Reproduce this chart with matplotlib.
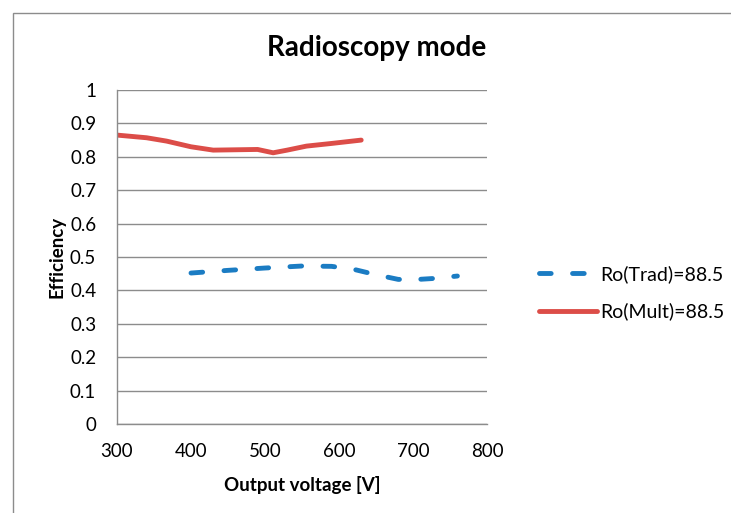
import matplotlib
matplotlib.use("Agg")
import matplotlib.pyplot as plt
from matplotlib.lines import Line2D
from matplotlib.patches import Rectangle

plt.rcParams['font.family'] = ['Lato', 'DejaVu Sans']

title = "Radioscopy mode"
xlabel = "Output voltage [V]"
ylabel = "Efficiency"
x_ticks = [300, 400, 500, 600, 700, 800]
y_ticks = [0, 0.1, 0.2, 0.3, 0.4, 0.5, 0.6, 0.7, 0.8, 0.9, 1]
y_tick_labels = ["0", "0.1", "0.2", "0.3", "0.4", "0.5", "0.6", "0.7", "0.8", "0.9", "1"]

trad_label = "Ro(Trad)=88.5"
trad_x = [400, 450, 500, 550, 590, 620, 650, 680, 700, 730, 760]
trad_y = [0.452, 0.460, 0.467, 0.473, 0.472, 0.463, 0.447, 0.433, 0.432, 0.436, 0.443]

mult_label = "Ro(Mult)=88.5"
mult_x = [300, 340, 367, 400, 430, 460, 490, 511, 530, 556, 590, 630]
mult_y = [0.865, 0.857, 0.847, 0.830, 0.820, 0.821, 0.822, 0.812, 0.820, 0.832, 0.840, 0.850]

W, H = 731, 513
fig = plt.figure(figsize=(W / 100, H / 100), dpi=100)
fig.patch.set_facecolor("white")

# chart border (Excel chart area)
fig.patches.append(Rectangle((13 / W, -0.1), 1.2, (513 - 13) / H + 0.1,
                             transform=fig.transFigure, fill=False,
                             edgecolor="#8c8c8c", linewidth=1.0))

ax = fig.add_axes([117 / W, (H - 424) / H, 370 / W, 334 / H])
blue = "#1b7cc3"
red = "#dc4d48"

ax.plot(trad_x, trad_y, color=blue, linewidth=3.5, linestyle=(0, (2.4, 4.4)),
        dash_capstyle="round", solid_capstyle="round", label=trad_label)
ax.plot(mult_x, mult_y, color=red, linewidth=3.5, solid_capstyle="round",
        solid_joinstyle="round", label=mult_label)

ax.set_xlim(300, 800)
ax.set_ylim(0, 1)
ax.set_xticks(x_ticks)
ax.set_xticklabels([str(v) for v in x_ticks])
ax.set_yticks(y_ticks)
ax.set_yticklabels(y_tick_labels)
ax.tick_params(length=0, labelsize=13.5, colors="black")
ax.tick_params(axis="x", pad=14)
ax.tick_params(axis="y", pad=15)
ax.grid(axis="y", color="#8c8c8c", linewidth=1.0)
ax.set_axisbelow(True)
for s in ["top", "right"]:
    ax.spines[s].set_visible(False)
for s in ["left", "bottom"]:
    ax.spines[s].set_color("#8c8c8c")
    ax.spines[s].set_linewidth(1.0)

fig.text(377 / W, 1 - 48 / H, title, ha="center", va="center",
         fontsize=20, fontweight="bold")
fig.text(302 / W, 1 - 485 / H, xlabel, ha="center", va="center",
         fontsize=13.5, fontweight="bold")
fig.text(57 / W, 1 - 257 / H, ylabel, ha="center", va="center",
         fontsize=13.5, fontweight="bold", rotation=90)

handles = [Line2D([], [], color=blue, linewidth=3.5, linestyle=(0, (2.4, 4.4)),
                  dash_capstyle="round"),
           Line2D([], [], color=red, linewidth=3.5, solid_capstyle="round")]
fig.legend(handles, [trad_label, mult_label], loc="center left",
           bbox_to_anchor=(521 / W, 1 - 293 / H), frameon=False, fontsize=14,
           handlelength=3.0, handletextpad=0.15, labelspacing=1.0)

fig.savefig("out.png", dpi=100)
